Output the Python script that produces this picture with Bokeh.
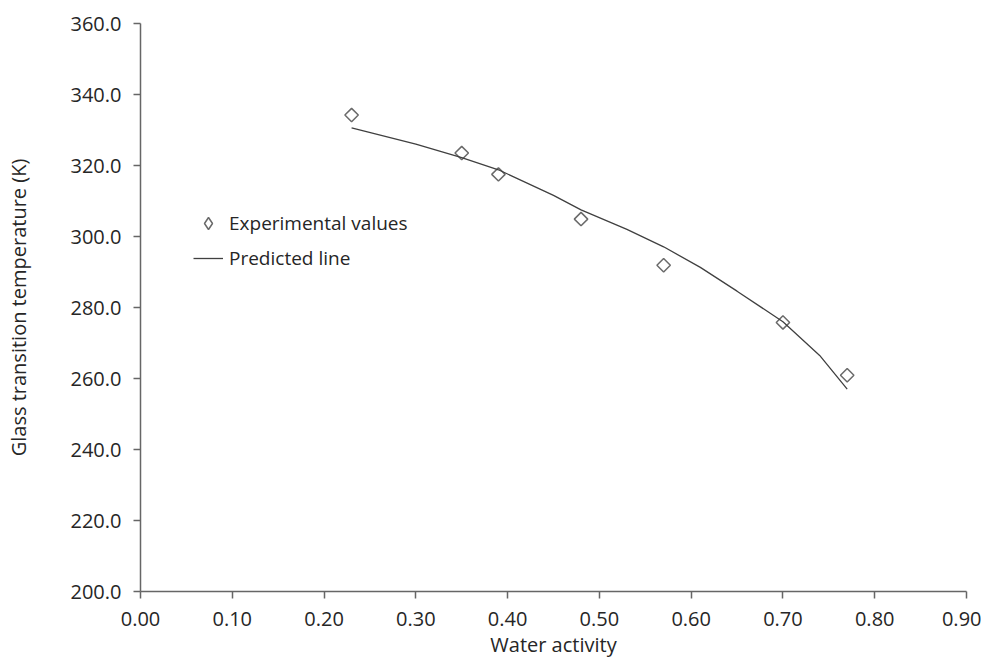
import math
from bokeh.plotting import figure
from bokeh.models import Legend, LegendItem, Range1d, FixedTicker, NumeralTickFormatter, ColumnDataSource
from bokeh.embed import file_html
from bokeh.resources import INLINE

# Experimental data
aw_exp = [0.23, 0.35, 0.39, 0.48, 0.57, 0.70, 0.77]
tg_exp = [334.2, 323.5, 317.5, 304.9, 291.9, 275.8, 260.9]

# Predicted line
aw_pred = [0.23, 0.30, 0.35, 0.39, 0.45, 0.48, 0.53, 0.57, 0.61, 0.65, 0.70, 0.74, 0.77]
tg_pred = [330.6, 326.0, 322.2, 318.8, 311.6, 307.5, 302.0, 297.1, 291.3, 284.6, 276.0, 266.5, 257.0]

x_ticks = [0.0, 0.1, 0.2, 0.3, 0.4, 0.5, 0.6, 0.7, 0.8, 0.9]
y_ticks = [200, 220, 240, 260, 280, 300, 320, 340, 360]

FONT = "Open Sans"
TXT = "#262626"
AX = "#666666"
MARK = "#6a6a6a"

p = figure(width=981, height=654, output_backend="svg", toolbar_location=None,
           x_range=Range1d(0, 0.9), y_range=Range1d(200, 360),
           min_border_left=140, min_border_right=15, min_border_top=23, min_border_bottom=63)
p.frame_width = 826
p.frame_height = 568
p.outline_line_color = None
p.xgrid.grid_line_color = None
p.ygrid.grid_line_color = None

for ax in (p.xaxis[0], p.yaxis[0]):
    ax.axis_line_color = AX
    ax.axis_line_width = 1.5
    ax.major_tick_line_color = AX
    ax.major_tick_line_width = 1.5
    ax.major_tick_in = 0
    ax.major_tick_out = 7
    ax.minor_tick_line_color = None
    ax.major_label_text_font = FONT
    ax.major_label_text_font_size = "20px"
    ax.major_label_text_color = TXT
    ax.axis_label_text_font = FONT
    ax.axis_label_text_font_size = "20px"
    ax.axis_label_text_font_style = "normal"
    ax.axis_label_text_color = TXT

p.xaxis.ticker = FixedTicker(ticks=x_ticks)
p.yaxis.ticker = FixedTicker(ticks=y_ticks)
p.xaxis.formatter = NumeralTickFormatter(format="0.00")
p.yaxis.formatter = NumeralTickFormatter(format="0.0")
p.xaxis.axis_label = "Water activity"
p.yaxis.axis_label = "Glass transition temperature (K)"
p.xaxis.major_label_standoff = 13
p.yaxis.major_label_standoff = 12
p.xaxis.axis_label_standoff = 2
p.yaxis.axis_label_standoff = 36

src = ColumnDataSource(dict(x=aw_exp, y=tg_exp, ang=[math.pi / 4] * len(aw_exp)))
r_pts = p.scatter("x", "y", source=src, marker="square", angle="ang", size=9.5,
                  line_color=MARK, line_width=1.5, fill_color=None)
r_line = p.line(aw_pred, tg_pred, line_color="#404040", line_width=1.3)

# legend-only proxy renderer (one undrawable NaN point) drawn as a diamond key
r_key = p.scatter([float("nan")], [float("nan")], marker="diamond", size=12,
                  line_color=MARK, line_width=1.5, fill_color=None)

legend = Legend(items=[LegendItem(label="Experimental values", renderers=[r_key], index=0),
                       LegendItem(label="Predicted line", renderers=[r_line])],
                location=(53, 317), orientation="vertical",
                padding=0, margin=0, spacing=3,
                glyph_width=30, glyph_height=32, label_height=32,
                label_standoff=6,
                label_text_font=FONT, label_text_font_size="19px", label_text_color=TXT,
                border_line_color=None, background_fill_alpha=0)
p.add_layout(legend, "center")

open("out.html", "w").write(file_html(p, INLINE))
